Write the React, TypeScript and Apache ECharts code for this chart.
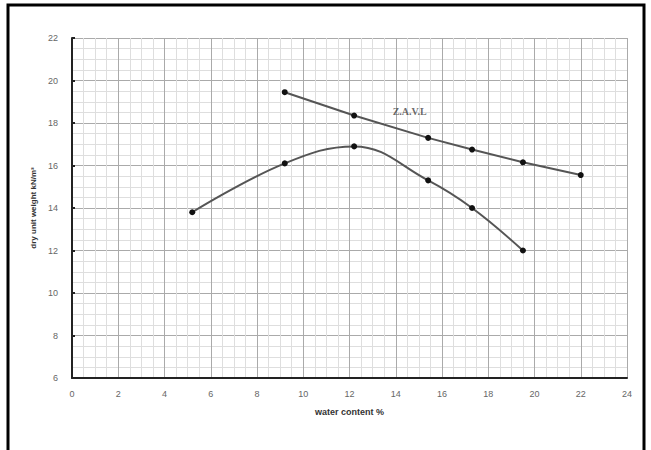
import React, { useEffect, useRef } from "react";
import * as echarts from "echarts";

const xTicks = [0, 2, 4, 6, 8, 10, 12, 14, 16, 18, 20, 22, 24];
const yTicks = [6, 8, 10, 12, 14, 16, 18, 20, 22];

const compactionX = [5.2, 9.2, 12.2, 15.4, 17.3, 19.5];
const compactionY = [13.8, 16.1, 16.9, 15.3, 14.0, 12.0];

const zavX = [9.2, 12.2, 15.4, 17.3, 19.5, 22.0];
const zavY = [19.45, 18.35, 17.3, 16.75, 16.15, 15.55];

const zavLabel = "Z.A.V.L";
const zavLabelPos = [14.6, 18.55];
const xName = "water content %";
const yName = "dry unit weight kN/m³";

export default function App() {
  const ref = useRef<HTMLDivElement>(null);
  useEffect(() => {
    document.body.style.margin = "0";
    const chart = echarts.init(ref.current!, null, { renderer: "svg" });
    const compaction = compactionX.map((x, i) => [x, compactionY[i]]);
    const zav = zavX.map((x, i) => [x, zavY[i]]);
    chart.setOption({
      animation: false,
      backgroundColor: "#ffffff",
      grid: { left: 72, top: 38, width: 555, height: 340 },
      xAxis: {
        type: "value",
        min: xTicks[0],
        max: xTicks[xTicks.length - 1],
        interval: 2,
        name: xName,
        nameLocation: "middle",
        nameGap: 29,
        nameTextStyle: { fontSize: 9, fontWeight: "bold", color: "#333", fontFamily: "Liberation Sans" },
        axisLine: { show: true, onZero: false, lineStyle: { color: "#222", width: 2 } },
        axisTick: { show: false },
        axisLabel: { fontSize: 9, color: "#666", margin: 11, fontFamily: "Liberation Sans" },
        splitLine: { show: true, lineStyle: { color: "#aaaaaa", width: 1 } },
        minorTick: { show: false, splitNumber: 4 },
        minorSplitLine: { show: true, lineStyle: { color: "#dedede", width: 1 } },
      },
      yAxis: {
        type: "value",
        min: yTicks[0],
        max: yTicks[yTicks.length - 1],
        interval: 2,
        name: yName,
        nameLocation: "middle",
        nameGap: 34,
        nameTextStyle: { fontSize: 8, fontWeight: "bold", color: "#333", fontFamily: "Liberation Sans" },
        axisLine: { show: true, onZero: false, lineStyle: { color: "#222", width: 2 } },
        axisTick: { show: true, inside: true, length: 3, lineStyle: { color: "#222", width: 2 } },
        axisLabel: { fontSize: 9, color: "#666", margin: 14, fontFamily: "Liberation Sans" },
        splitLine: { show: true, lineStyle: { color: "#aaaaaa", width: 1 } },
        minorTick: { show: false, splitNumber: 4 },
        minorSplitLine: { show: true, lineStyle: { color: "#dedede", width: 1 } },
      },
      graphic: [
        {
          type: "rect",
          shape: { x: 8, y: 5, width: 636, height: 470 },
          style: { fill: "none", stroke: "#000", lineWidth: 3 },
          z: 100,
        },
      ],
      series: [
        {
          type: "line",
          data: compaction,
          smooth: 0.4,
          symbol: "circle",
          symbolSize: 6,
          itemStyle: { color: "#111" },
          lineStyle: { color: "#555", width: 2 },
        },
        {
          type: "line",
          data: zav,
          symbol: "circle",
          symbolSize: 6,
          itemStyle: { color: "#111" },
          lineStyle: { color: "#555", width: 2 },
        },
        {
          type: "scatter",
          data: [zavLabelPos],
          symbolSize: 1,
          itemStyle: { color: "rgba(0,0,0,0)" },
          label: {
            show: true,
            position: "inside",
            formatter: zavLabel,
            fontSize: 10,
            fontWeight: "bold",
            color: "#444",
            fontFamily: "Liberation Serif",
          },
          z: 10,
        },
      ],
    });
    return () => chart.dispose();
  }, []);
  return <div ref={ref} style={{ width: 651, height: 450 }} />;
}
